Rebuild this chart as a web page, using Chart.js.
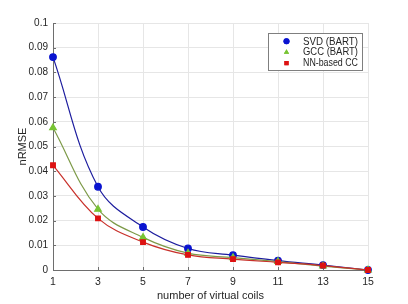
<!DOCTYPE html>
<html>
<head>
<meta charset="utf-8">
<script src="https://cdn.jsdelivr.net/npm/chart.js@4"></script>
<style>
  html, body { margin: 0; padding: 0; background: #fff; }
  #wrap { width: 408px; height: 304px; }
</style>
</head>
<body>
<div id="wrap"><canvas id="chart" width="408" height="304"></canvas></div>
<script>
// data
const coils = [1, 3, 5, 7, 9, 11, 13, 15]
const svd = [0.0862, 0.0337, 0.0174, 0.0087, 0.0060, 0.0038, 0.0020, 0.0000]
const gcc = [0.0576, 0.0246, 0.0132, 0.0068, 0.0050, 0.0034, 0.0016, 0.0000]
const nncc = [0.0424, 0.0209, 0.0113, 0.0061, 0.0044, 0.0031, 0.0018, 0.0000]
const seriesNames = ['SVD (BART)', 'GCC (BART)', 'NN-based CC']
const yTicks = [0, 0.01, 0.02, 0.03, 0.04, 0.05, 0.06, 0.07, 0.08, 0.09, 0.1]

const FONT = 'Liberation Sans, Arial, Helvetica, sans-serif'
const AXIS = '#6e6e6e'

function points(vals) {
  return coils.map((c, i) => ({ x: c, y: vals[i] }))
}

function series(label, vals, line, mark, style, order) {
  return {
    label,
    data: points(vals),
    borderColor: line,
    backgroundColor: mark,
    pointBackgroundColor: mark,
    pointBorderColor: mark,
    pointStyle: style,
    pointRadius: style === 'triangle' ? 3.8 : 3.3,
    borderWidth: 1.2,
    tension: 0.38,
    clip: false,
    order,
  }
}

// small inward tick marks, matlab style
const innerTicks = {
  id: 'innerTicks',
  beforeDatasetsDraw(chart) {
    const { ctx, scales: { x, y } } = chart
    const a = chart.chartArea
    ctx.save()
    ctx.strokeStyle = AXIS
    ctx.lineWidth = 1
    ctx.beginPath()
    coils.forEach((v) => {
      const px = Math.round(x.getPixelForValue(v)) + 0.5
      ctx.moveTo(px, a.bottom)
      ctx.lineTo(px, a.bottom - 3)
    })
    yTicks.forEach((v) => {
      const py = Math.round(y.getPixelForValue(v)) + 0.5
      ctx.moveTo(a.left, py)
      ctx.lineTo(a.left + 3, py)
    })
    ctx.stroke()
    ctx.restore()
  },
}

// legend box drawn inside the plot, like the matlab one
const boxLegend = {
  id: 'boxLegend',
  afterDraw(chart) {
    const ctx = chart.ctx
    const x0 = 268
    const y0 = 33
    const w = 94
    const h = 37
    ctx.save()
    ctx.fillStyle = '#fff'
    ctx.fillRect(x0, y0, w, h)
    ctx.strokeStyle = '#7f7f7f'
    ctx.lineWidth = 1
    ctx.strokeRect(x0 + 0.5, y0 + 0.5, w, h)
    ctx.font = '10px ' + FONT
    ctx.textBaseline = 'middle'
    ctx.textAlign = 'left'
    chart.data.datasets.forEach((ds, i) => {
      const cy = y0 + 8.3 + i * 10.9
      ctx.fillStyle = ds.pointBackgroundColor
      Chart.helpers.drawPoint(ctx, { pointStyle: ds.pointStyle, radius: 3, borderWidth: 0 }, x0 + 18.5, cy)
      ctx.fill()
      ctx.fillStyle = '#262626'
      ctx.fillText(ds.label, x0 + 35, cy + 0.5, 55)
    })
    ctx.restore()
  },
}

new Chart(document.getElementById('chart'), {
  type: 'line',
  data: {
    datasets: [
      series(seriesNames[0], svd, '#1c1c9e', '#0a14d0', 'circle', 2),
      series(seriesNames[1], gcc, '#7d9a48', '#78c434', 'triangle', 1),
      series(seriesNames[2], nncc, '#c8302a', '#dd1212', 'rect', 0),
    ],
  },
  options: {
    responsive: false,
    animation: false,
    layout: { padding: { top: 23, right: 40, left: 0, bottom: 0 } },
    plugins: { legend: { display: false }, tooltip: { enabled: false } },
    scales: {
      x: {
        type: 'linear',
        min: 1,
        max: 15,
        afterFit(scale) { scale.height = 34 },
        afterBuildTicks(scale) { scale.ticks = coils.map((v) => ({ value: v })) },
        grid: { color: '#e6e6e6', drawTicks: false, tickLength: 0 },
        border: { color: AXIS, width: 1 },
        ticks: { color: '#262626', font: { family: FONT, size: 10.5 }, padding: 6, maxRotation: 0 },
        title: { display: true, text: 'number of virtual coils', color: '#262626', font: { family: FONT, size: 11 }, padding: { top: 0, bottom: 1 } },
      },
      y: {
        min: 0,
        max: 0.1,
        afterFit(scale) { scale.width = 53 },
        afterBuildTicks(scale) { scale.ticks = yTicks.map((v) => ({ value: v })) },
        grid: { color: '#e6e6e6', drawTicks: false, tickLength: 0 },
        border: { color: AXIS, width: 1 },
        ticks: {
          color: '#262626',
          font: { family: FONT, size: 10 },
          padding: 5,
          callback: (v) => String(Math.round(v * 1000) / 1000),
        },
        title: { display: true, text: 'nRMSE', color: '#262626', font: { family: FONT, size: 11 }, padding: { top: 16, bottom: 0 } },
      },
    },
  },
  plugins: [innerTicks, boxLegend],
})
</script>
</body>
</html>
